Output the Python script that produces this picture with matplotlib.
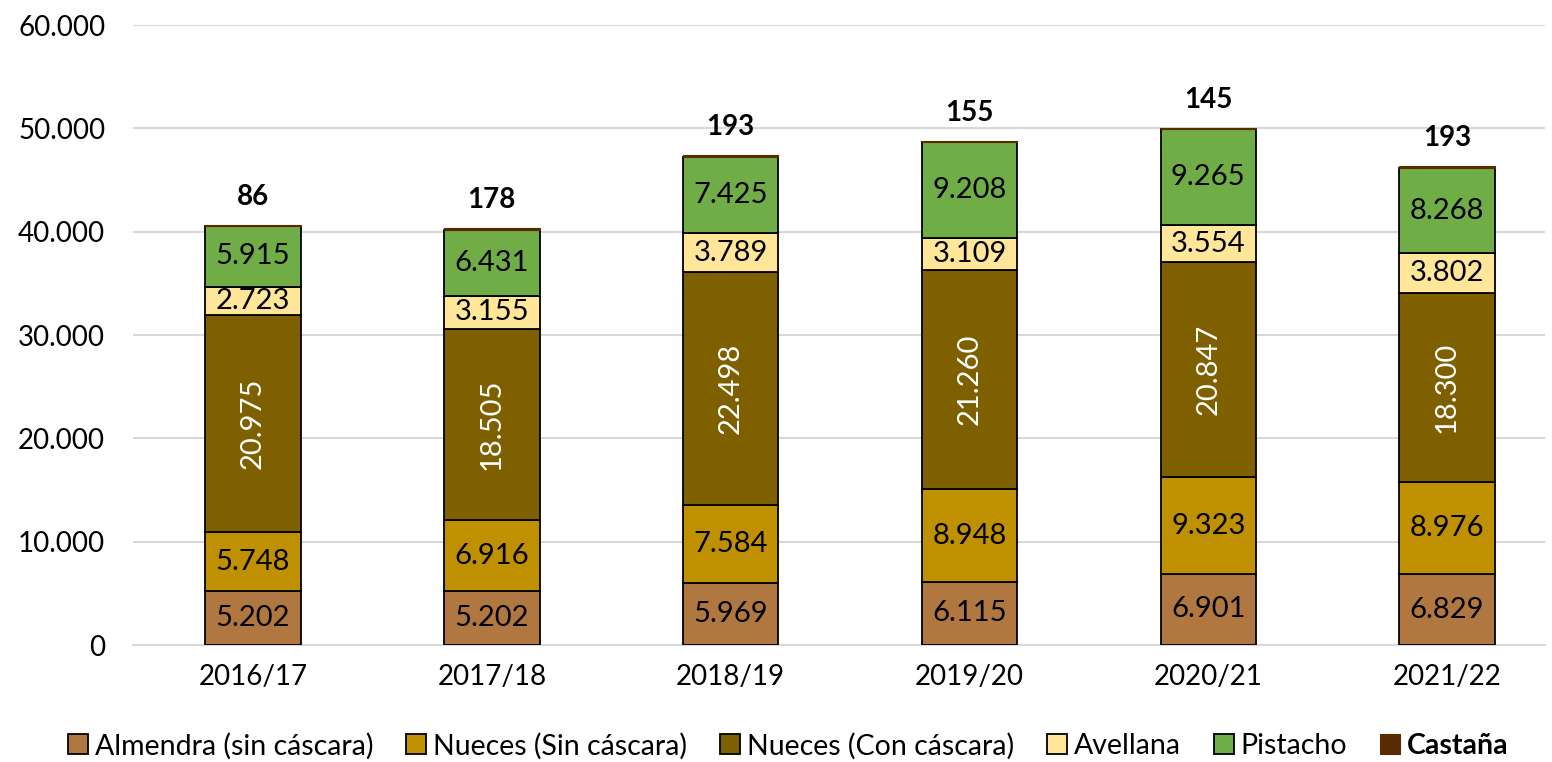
import matplotlib
matplotlib.use("Agg")
import matplotlib.pyplot as plt
import numpy as np

campanas = ["2016/17", "2017/18", "2018/19", "2019/20", "2020/21", "2021/22"]
almendra = [5202, 5202, 5969, 6115, 6901, 6829]
nueces_sin = [5748, 6916, 7584, 8948, 9323, 8976]
nueces_con = [20975, 18505, 22498, 21260, 20847, 18300]
avellana = [2723, 3155, 3789, 3109, 3554, 3802]
pistacho = [5915, 6431, 7425, 9208, 9265, 8268]
castana = [86, 178, 193, 155, 145, 193]

series_names = ["Almendra (sin cáscara)", "Nueces (Sin cáscara)", "Nueces (Con cáscara)",
                "Avellana", "Pistacho", "Castaña"]
colors = ["#B07840", "#BF9000", "#7F6000", "#FFE699", "#70AD47", "#582C00"]
text_colors = ["black", "black", "white", "black", "black", "black"]

plt.rcParams['font.family'] = ['Lato', 'DejaVu Sans']

fig = plt.figure(figsize=(15.52, 7.62), dpi=100)
ax = fig.add_axes([133/1552, 1-645/762, (1545-133)/1552, (645-25)/762])

def fmt(v):
    return f"{v:,.0f}".replace(",", ".")

x = np.arange(len(campanas))
width = 0.40
bottom = np.zeros(len(campanas))
data = [almendra, nueces_sin, nueces_con, avellana, pistacho, castana]
for i, (vals, name, col) in enumerate(zip(data, series_names, colors)):
    vals = np.array(vals, dtype=float)
    ax.bar(x, vals, width, bottom=bottom, color=col, edgecolor="black" if i < 5 else col,
           linewidth=1.3 if i < 5 else 0.8, label=name, zorder=3)
    for xi, b, v in zip(x, bottom, vals):
        if i == 2:
            ax.text(xi, b + v / 2, fmt(v), ha="center", va="center", rotation=90,
                    color="white", fontsize=21, zorder=4)
        elif i == 5:
            ax.annotate(fmt(v), (xi, b + v), xytext=(0, 20), textcoords="offset points",
                        ha="center", va="center", fontsize=20, fontweight="bold", zorder=4)
        else:
            ax.text(xi, b + v / 2, fmt(v), ha="center", va="center",
                    color=text_colors[i], fontsize=21, zorder=4)
    bottom += vals

ax.set_xlim(-0.5025, 5.41)
ax.set_ylim(0, 60000)
ax.set_yticks(np.arange(0, 60001, 10000))
ax.set_yticklabels([fmt(v) for v in np.arange(0, 60001, 10000)])
ax.set_xticks(x)
ax.set_xticklabels(campanas)
ax.tick_params(axis="both", length=0, labelsize=20, colors="black")
ax.tick_params(axis="x", pad=14)
ax.tick_params(axis="y", pad=20)
ax.grid(axis="y", color="#D9D9D9", linewidth=1.5, zorder=0)
for s in ["top", "right", "left"]:
    ax.spines[s].set_visible(False)
ax.spines["bottom"].set_color("#D9D9D9")
ax.spines["bottom"].set_linewidth(1.5)

leg = fig.legend(loc="lower center", bbox_to_anchor=(0.508, -0.03), ncol=6, frameon=False,
                 fontsize=20.5, handlelength=0.7, handleheight=0.7, handletextpad=0.25,
                 columnspacing=1.15)
for t in leg.get_texts():
    if t.get_text() == "Castaña":
        t.set_fontweight("bold")

fig.savefig("out.png", dpi=100)
